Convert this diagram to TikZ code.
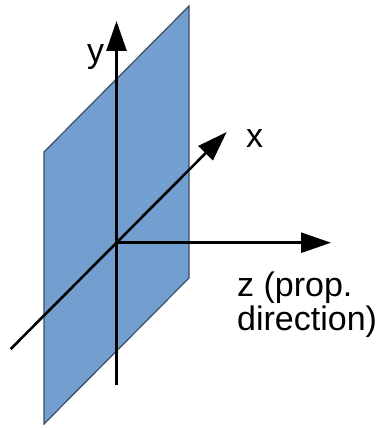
\documentclass[tikz,border=0pt]{standalone}
\usepackage{xcolor}
\usepackage{fontspec}
\setmainfont{Liberation Sans}
\usepackage{tikz}
\usetikzlibrary{arrows.meta,positioning}
\definecolor{planefill}{HTML}{729FCF}
\definecolor{planeedge}{HTML}{3A4D63}
\definecolor{axisink}{HTML}{000000}
\tikzset{
  plane/.style ={fill=planefill,draw=planeedge,line width=1.2pt},
  axis/.style  ={-{Triangle[length=30pt,width=20pt]},line width=2.6pt,draw=axisink},
  axisline/.style={line width=2.6pt,draw=axisink},
  lbl/.style   ={inner sep=0pt,font=\fontsize{34}{34}\selectfont}
}
\begin{document}
\begin{tikzpicture}[x=1pt,y=-1pt]
        \useasboundingbox (0,0) rectangle (380,428);
        % plane
        \draw[plane] (44,152) -- (189,6) -- (189,278) -- (44,424) -- cycle;
        % axes
        \coordinate (o)     at (116.5,242.7);
        \coordinate (ybot)  at (116.5,385);
        \coordinate (ytip)  at (116.5,21);
        \coordinate (xtail) at (10.7,349);
        \coordinate (xtip)  at (226.7,132);
        \coordinate (ztip)  at (331,242.7);
        \draw[axisline] (ybot) -- (o);
        \draw[axis] (o) -- (ytip);
        \draw[axisline] (xtail) -- (o);
        \draw[axis] (o) -- (xtip);
        \draw[axis] (o) -- (ztip);
        % labels
        \node[lbl,anchor=base west] (ylbl) at (87,63) {y};
        \node[lbl,anchor=base west] (xlbl) at (246,147.7) {x};
        \node[lbl,anchor=base west,align=left] (zlbl) at (237,330.7)
          {z (prop.\\direction)};
      \end{tikzpicture}
\end{document}
